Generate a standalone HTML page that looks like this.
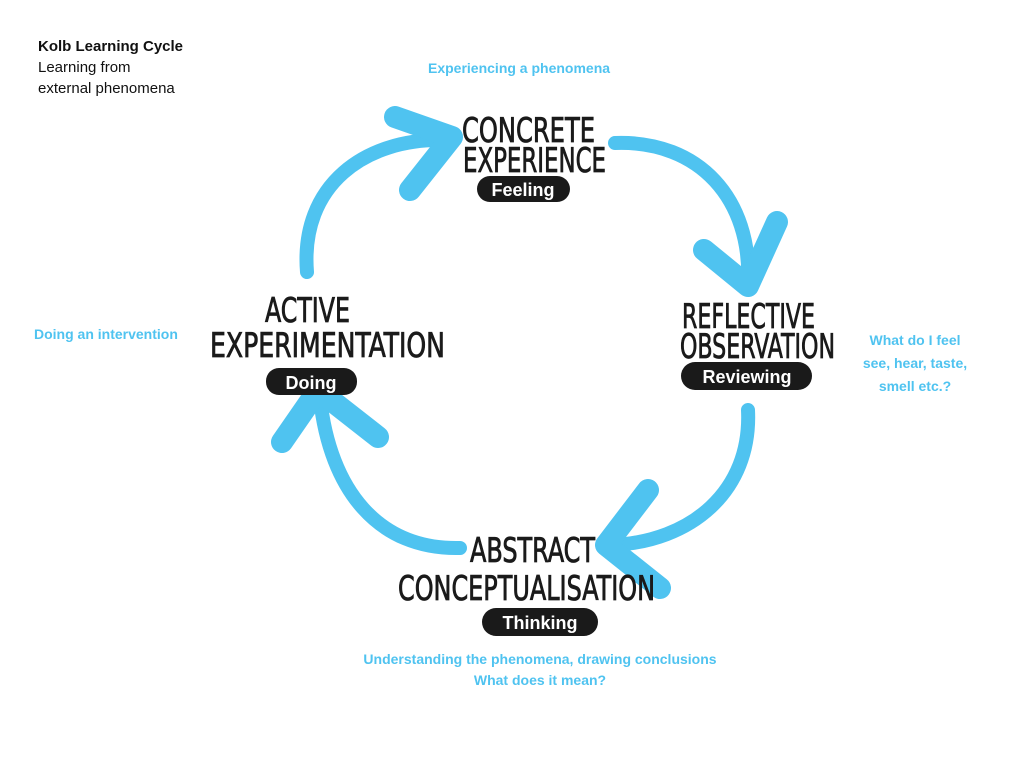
<!DOCTYPE html>
<html><head><meta charset="utf-8"><style>
html,body{margin:0;padding:0;background:#fff;}
body{width:1024px;height:768px;overflow:hidden;position:relative;font-family:"Liberation Sans",sans-serif;}
.b{position:absolute;color:#4fc3f0;font-weight:bold;font-size:14px;line-height:22px;}
</style></head><body>
<div style="position:absolute;left:38px;top:36px;font-size:15px;line-height:21px;color:#111;">
<b>Kolb Learning Cycle</b><br>Learning from<br>external phenomena</div>
<div class="b" style="left:428px;top:57px;">Experiencing a phenomena</div>
<div class="b" style="left:34px;top:323px;">Doing an intervention</div>
<div class="b" style="left:855px;top:329px;width:120px;text-align:center;line-height:23px;">What do I feel<br>see, hear, taste,<br>smell etc.?</div>
<div class="b" style="left:340px;top:649px;width:400px;text-align:center;line-height:21px;">Understanding the phenomena, drawing conclusions<br>What does it mean?</div>
<svg width="1024" height="768" style="position:absolute;left:0;top:0" xmlns="http://www.w3.org/2000/svg">
<g fill="none" stroke="#4fc3f0" stroke-linecap="round" stroke-linejoin="round">
<path d="M307,272 C300,185 365,138 445,140" stroke-width="14"/>
<path d="M395,117 L452,137 L410,190" stroke-width="22"/>
<path d="M615,143 C700,140 752,200 748,283" stroke-width="14"/>
<path d="M704,250 L748,286 L777,222" stroke-width="22"/>
<path d="M748,410 C752,492 690,542 612,545" stroke-width="14"/>
<path d="M648,490 L606,545 L660,588" stroke-width="22"/>
<path d="M460,548 C378,550 330,490 320,398" stroke-width="14"/>
<path d="M282,442 L318,390 L378,437" stroke-width="22"/>
</g>
<g font-family="DejaVu Sans Condensed, DejaVu Sans, sans-serif" fill="#1a1a1a" stroke="#1a1a1a" stroke-width="0.8" font-size="34">
<text x="462" y="142" textLength="133" lengthAdjust="spacingAndGlyphs">CONCRETE</text>
<text x="463" y="172" textLength="143" lengthAdjust="spacingAndGlyphs">EXPERIENCE</text>
<text x="265" y="322" textLength="85" lengthAdjust="spacingAndGlyphs">ACTIVE</text>
<text x="210" y="357" textLength="235" lengthAdjust="spacingAndGlyphs">EXPERIMENTATION</text>
<text x="682" y="328" textLength="133" lengthAdjust="spacingAndGlyphs">REFLECTIVE</text>
<text x="680" y="358" textLength="155" lengthAdjust="spacingAndGlyphs">OBSERVATION</text>
<text x="470" y="562" textLength="125" lengthAdjust="spacingAndGlyphs">ABSTRACT</text>
<text x="398" y="600" textLength="257" lengthAdjust="spacingAndGlyphs">CONCEPTUALISATION</text>
</g>
<g fill="#1a1a1a">
<rect x="477" y="176" width="93" height="26" rx="13"/>
<rect x="266" y="368" width="91" height="27" rx="13"/>
<rect x="681" y="362" width="131" height="28" rx="14"/>
<rect x="482" y="608" width="116" height="28" rx="14"/>
</g>
<g font-family="Liberation Sans, sans-serif" font-weight="bold" font-size="18" fill="#fff" text-anchor="middle">
<text x="523" y="196">Feeling</text>
<text x="311" y="389">Doing</text>
<text x="747" y="383">Reviewing</text>
<text x="540" y="629">Thinking</text>
</g>
</svg>
</body></html>
